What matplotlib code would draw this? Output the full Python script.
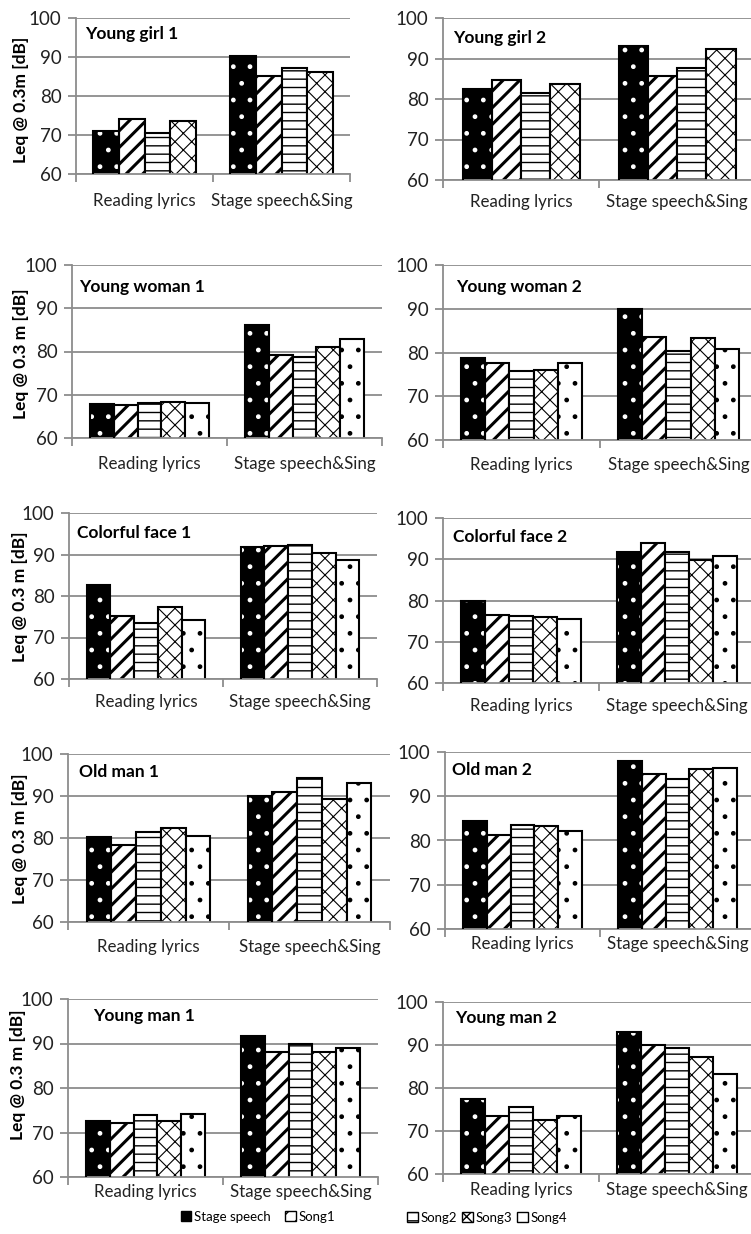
import matplotlib.pyplot as plt
from matplotlib.patches import Patch

plt.rcParams['font.family'] = ['Lato', 'DejaVu Sans']

W, H = 751, 1234
DPI = 100

series = ['Stage speech', 'Song1', 'Song2', 'Song3', 'Song4']
categories = ['Reading lyrics', 'Stage speech&Sing']

# Leq values, one entry per series
girl1_read = [71.0, 74.1, 70.5, 73.6]
girl1_stage = [90.2, 85.2, 87.1, 86.1]
girl2_read = [82.4, 84.6, 81.4, 83.8]
girl2_stage = [93.0, 85.6, 87.6, 92.3]
woman1_read = [67.9, 67.6, 68.1, 68.3, 68.0]
woman1_stage = [86.1, 79.3, 78.8, 81.0, 82.9]
woman2_read = [78.7, 77.6, 75.8, 76.0, 77.7]
woman2_stage = [90.0, 83.5, 80.3, 83.3, 80.7]
face1_read = [82.6, 75.2, 73.5, 77.4, 74.3]
face1_stage = [91.7, 92.0, 92.4, 90.4, 88.6]
face2_read = [79.8, 76.6, 76.3, 75.9, 75.6]
face2_stage = [91.8, 93.9, 91.8, 89.8, 90.8]
oldman1_read = [80.2, 78.4, 81.5, 82.4, 80.5]
oldman1_stage = [89.9, 91.0, 94.2, 89.2, 93.2]
oldman2_read = [84.5, 81.3, 83.5, 83.3, 82.2]
oldman2_stage = [98.0, 95.0, 93.8, 96.2, 96.3]
man1_read = [72.6, 72.2, 73.9, 72.5, 74.1]
man1_stage = [91.6, 88.2, 89.8, 88.0, 89.1]
man2_read = [77.4, 73.5, 75.5, 72.6, 73.6]
man2_stage = [93.0, 89.9, 89.2, 87.1, 83.3]

panels = [
    ('Young girl 1', girl1_read, girl1_stage),
    ('Young girl 2', girl2_read, girl2_stage),
    ('Young woman 1', woman1_read, woman1_stage),
    ('Young woman 2', woman2_read, woman2_stage),
    ('Colorful face 1', face1_read, face1_stage),
    ('Colorful face 2', face2_read, face2_stage),
    ('Old man 1', oldman1_read, oldman1_stage),
    ('Old man 2', oldman2_read, oldman2_stage),
    ('Young man 1', man1_read, man1_stage),
    ('Young man 2', man2_read, man2_stage),
]

# layout in pixels: left, right, top, bottom of each plot area
boxes = [
    (76, 350, 18, 174), (443, 755, 18, 180),
    (72, 382, 265, 438), (443, 757, 265, 440),
    (69, 377, 513, 679), (443, 755, 518, 683),
    (68, 390, 754, 922), (445, 755, 752, 929),
    (68, 378, 999, 1177), (443, 755, 1002, 1174),
]
title_off = [(9, 11), (10, 15), (7, 17), (13, 17), (8, 15),
             (10, 14), (11, 13), (7, 13), (25, 12), (12, 11)]
xlab_pad = [14, 10, 13, 12, 10.5, 11, 12, 5, 5, 6]
ylabels = ['Leq @ 0.3m [dB]'] + ['Leq @ 0.3 m [dB]'] * 4
ylab_x = [29, 29, 28, 28, 26]
ylab_y = [100, 354, 597, 839, 1075]

hatches = ['.', '//', '--', 'xx', '.']
hatch_lw = [1.0, 2.2, 1.0, 0.8, 1.0]
gray = '#8c8c8c'

fig = plt.figure(figsize=(W / DPI, H / DPI), dpi=DPI)


def set_hlw(bars, lw):
    for p in bars:
        if hasattr(p, 'set_hatch_linewidth'):
            p.set_hatch_linewidth(lw)


for i, (title, read, stage) in enumerate(panels):
    l, r, t, b = boxes[i]
    ax = fig.add_axes([l / W, 1 - b / H, (r - l) / W, (b - t) / H])
    ax.set_axisbelow(True)
    n = len(read)
    group = 0.75 if n == 4 else 0.77
    w = group / n
    for j in range(n):
        xs = [0.5 - group / 2 + w * (j + 0.5), 1.5 - group / 2 + w * (j + 0.5)]
        vals = [read[j], stage[j]]
        if j == 0:
            bars = ax.bar(xs, vals, w, facecolor='black', edgecolor='white',
                          hatch=hatches[j], linewidth=0, zorder=2)
            set_hlw(bars, hatch_lw[j])
            ax.bar(xs, vals, w, fill=False, edgecolor='black', linewidth=1.5, zorder=3)
        else:
            bars = ax.bar(xs, vals, w, facecolor='white', edgecolor='black',
                          hatch=hatches[j], linewidth=1.5, zorder=2)
            set_hlw(bars, hatch_lw[j])

    ax.set_ylim(60, 100)
    ax.set_xlim(0, 2)
    ax.set_yticks([60, 70, 80, 90, 100])
    ax.grid(axis='y', color=gray, linewidth=1.3)
    for s in ['top', 'right']:
        ax.spines[s].set_visible(False)
    for s in ['left', 'bottom']:
        ax.spines[s].set_color(gray)
        ax.spines[s].set_linewidth(1.3)
    ax.tick_params(axis='y', length=5.5, width=1.3, color=gray, pad=5,
                   labelsize=13.5, labelcolor='#222222')
    ax.set_xticks([0, 1, 2])
    ax.set_xticklabels([])
    ax.set_xticks([0.5, 1.5], minor=True)
    ax.set_xticklabels(categories, minor=True)
    ax.tick_params(axis='x', which='major', length=5.5, width=1.3, color=gray)
    ax.tick_params(axis='x', which='minor', length=0, pad=xlab_pad[i],
                   labelsize=12.2, labelcolor='#222222')

    dx, dy = title_off[i]
    ax.annotate(title, xy=(0, 1), xycoords='axes fraction',
                xytext=(dx, -(dy - 3)), textcoords='offset pixels',
                ha='left', va='top', fontsize=12.5, fontweight='bold')

    if i % 2 == 0:
        row = i // 2
        ax.set_ylabel(ylabels[row], fontsize=12.5, fontweight='bold')
        ax.yaxis.set_label_coords((ylab_x[row] - l) / (r - l),
                                  (b - ylab_y[row]) / (b - t))

handles = [
    Patch(facecolor='black', edgecolor='black', linewidth=1),
    Patch(facecolor='white', edgecolor='black', hatch='//', linewidth=1),
    Patch(facecolor='white', edgecolor='black', hatch='--', linewidth=1),
    Patch(facecolor='white', edgecolor='black', hatch='xx', linewidth=1),
    Patch(facecolor='white', edgecolor='black', linewidth=1),
]
leg_kw = dict(loc='center', frameon=False, fontsize=9.5, handlelength=0.8,
              handleheight=0.8, handletextpad=0.2,
              borderpad=0, borderaxespad=0)
fig.legend(handles[:2], series[:2], ncol=2, columnspacing=1.1,
           bbox_to_anchor=(258 / W, 1 - 1217 / H), **leg_kw)
fig.legend(handles[2:], series[2:], ncol=3, columnspacing=0.4,
           bbox_to_anchor=(487 / W, 1 - 1218 / H), **leg_kw)

fig.savefig('out.png', dpi=DPI)
